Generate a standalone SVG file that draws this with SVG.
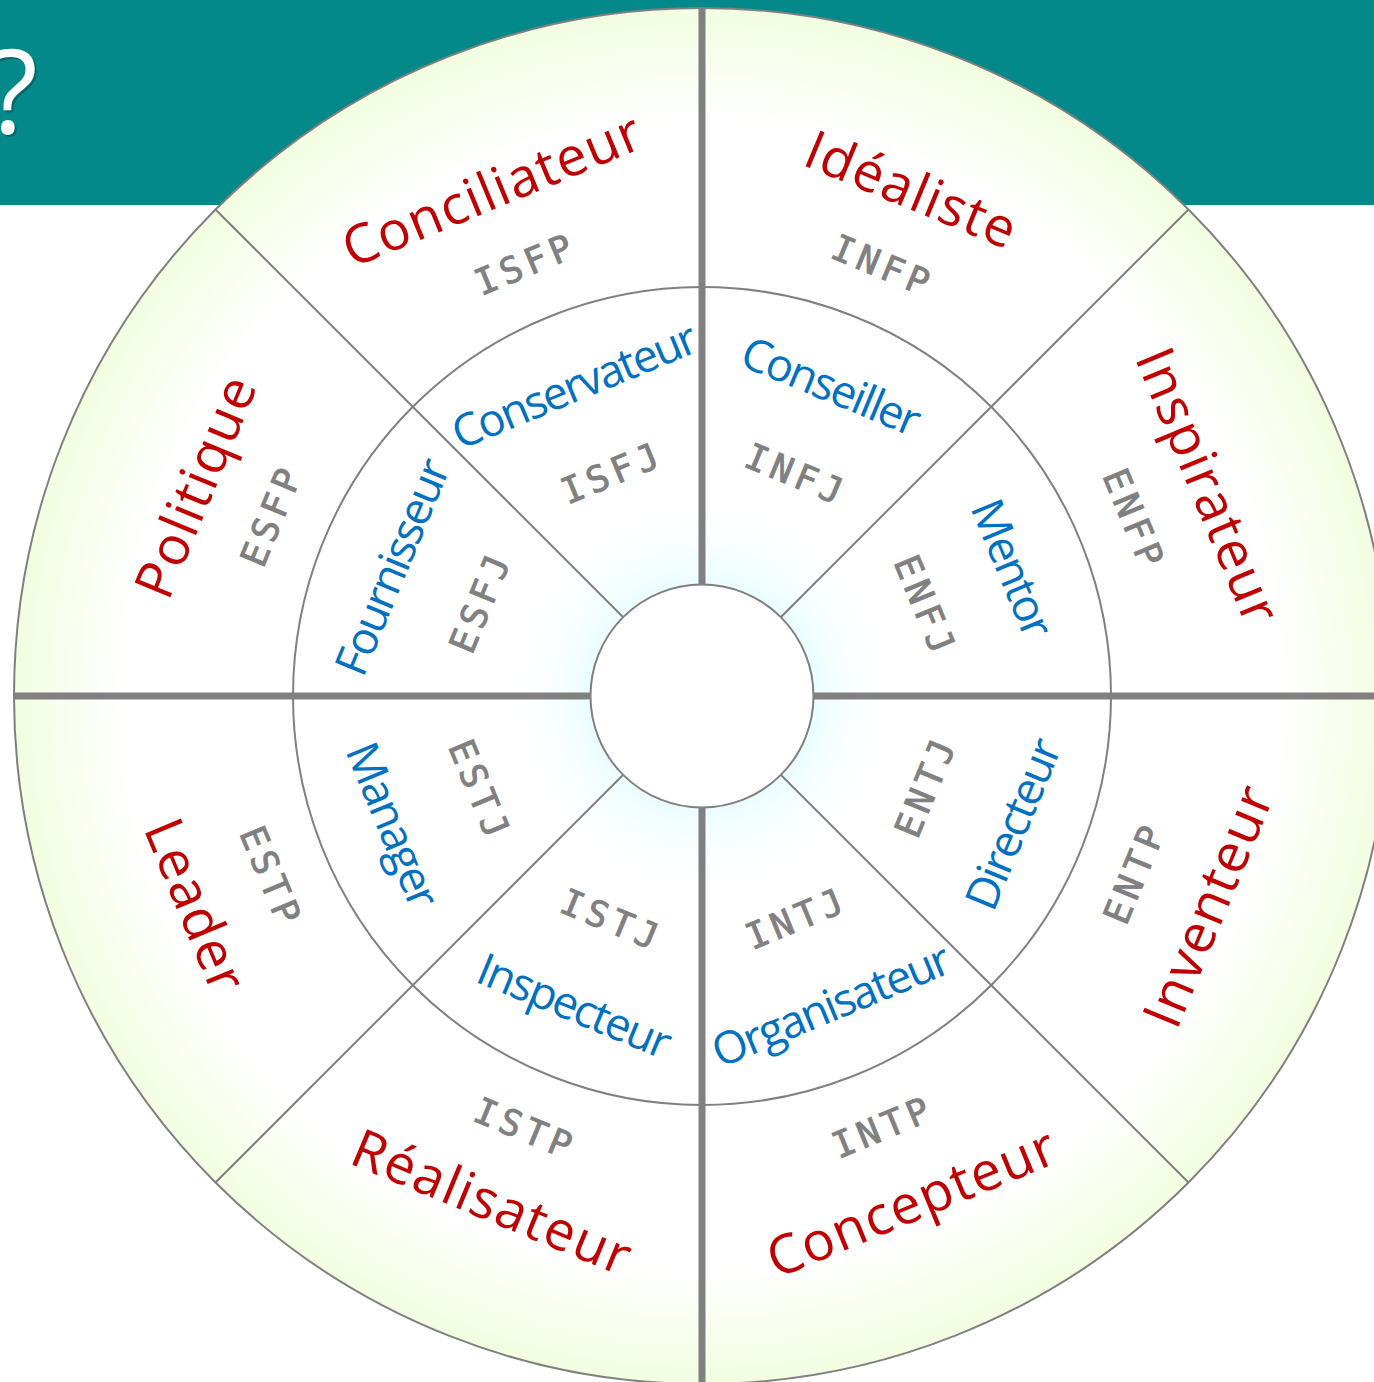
<svg xmlns="http://www.w3.org/2000/svg" width="1374" height="1382" viewBox="0 0 1374 1382">
<defs>
<radialGradient id="outerG" cx="702" cy="696" r="688" gradientUnits="userSpaceOnUse">
<stop offset="0" stop-color="#ffffff"/>
<stop offset="0.84" stop-color="#ffffff"/>
<stop offset="1" stop-color="#f2fde0"/>
</radialGradient>
<radialGradient id="glowG" cx="702" cy="696" r="195" gradientUnits="userSpaceOnUse">
<stop offset="0.5" stop-color="#e2fcff"/>
<stop offset="1" stop-color="#ffffff" stop-opacity="0"/>
</radialGradient>
<style>
.ring{stroke:#808080;stroke-width:2}
.thick{stroke:#808080;stroke-width:7;fill:none}
.thin{stroke:#808080;stroke-width:2;fill:none}
.red{font-family:"Open Sans","Noto Sans",sans-serif;font-size:54px;fill:#c00000;letter-spacing:1.5px;text-anchor:middle}
.blue{font-family:"Open Sans","Noto Sans",sans-serif;font-size:45px;fill:#0070c0;letter-spacing:-2px;text-anchor:middle}
.code{font-family:"DejaVu Sans Mono","Liberation Mono",monospace;font-size:36px;fill:#808080;stroke:#808080;stroke-width:0.9px;letter-spacing:5px;text-anchor:middle}
</style>
</defs>
<g id="header">
<rect x="0" y="0" width="1374" height="205" fill="#03898a"/>
<text x="40" y="135" font-family="Open Sans,sans-serif" font-size="118" fill="#000000" fill-opacity="0.25" text-anchor="end">?</text>
<text x="38" y="133" font-family="Open Sans,sans-serif" font-size="118" fill="#ffffff" text-anchor="end">?</text>
</g>
<g id="wheel">
<circle cx="702" cy="696" r="688" fill="url(#outerG)" class="ring"/>
<circle cx="702" cy="696" r="409" fill="#ffffff" class="ring"/>
<circle cx="702" cy="696" r="200" fill="url(#glowG)"/>
</g>
<g id="connectors">
<line x1="702" y1="8" x2="702" y2="1382" class="thick"/>
<line x1="14" y1="696" x2="1374" y2="696" class="thick"/>
<line x1="215.5" y1="209.5" x2="1188.5" y2="1182.5" class="thin"/>
<line x1="1188.5" y1="209.5" x2="215.5" y2="1182.5" class="thin"/>
</g>
<g id="center">
<circle cx="702" cy="696" r="111.5" fill="#ffffff" class="ring"/>
</g>
<g id="sector-ISFP">
<text class="red" dy="0.35em" transform="translate(492.3,189.7) rotate(-22.5)">Conciliateur</text>
<text class="code" dy="0.36em" dx="2.5" transform="translate(523.3,264.5) rotate(-22.5)">ISFP</text>
</g>
<g id="sector-INFP">
<text class="red" dy="0.35em" transform="translate(911.7,189.7) rotate(22.5)">Idéaliste</text>
<text class="code" dy="0.36em" dx="2.5" transform="translate(880.7,264.5) rotate(22.5)">INFP</text>
</g>
<g id="sector-ENFP">
<text class="red" dy="0.35em" transform="translate(1208.3,486.3) rotate(67.5)">Inspirateur</text>
<text class="code" dy="0.36em" dx="2.5" transform="translate(1133.5,517.3) rotate(67.5)">ENFP</text>
</g>
<g id="sector-ESFP">
<text class="red" dy="0.35em" transform="translate(195.7,486.3) rotate(-67.5)">Politique</text>
<text class="code" dy="0.36em" dx="2.5" transform="translate(270.5,517.3) rotate(-67.5)">ESFP</text>
</g>
<g id="sector-ESTP">
<text class="red" dy="0.35em" transform="translate(195.7,905.7) rotate(67.5)">Leader</text>
<text class="code" dy="0.36em" dx="2.5" transform="translate(270.5,874.7) rotate(67.5)">ESTP</text>
</g>
<g id="sector-ISTP">
<text class="red" dy="0.35em" transform="translate(492.3,1202.3) rotate(22.5)">Réalisateur</text>
<text class="code" dy="0.36em" dx="2.5" transform="translate(523.3,1127.5) rotate(22.5)">ISTP</text>
</g>
<g id="sector-INTP">
<text class="red" dy="0.35em" transform="translate(911.7,1202.3) rotate(-22.5)">Concepteur</text>
<text class="code" dy="0.36em" dx="2.5" transform="translate(880.7,1127.5) rotate(-22.5)">INTP</text>
</g>
<g id="sector-ENTP">
<text class="red" dy="0.35em" transform="translate(1208.3,905.7) rotate(-67.5)">Inventeur</text>
<text class="code" dy="0.36em" dx="2.5" transform="translate(1133.5,874.7) rotate(-67.5)">ENTP</text>
</g>
<g id="sector-ISFJ">
<text class="blue" dy="0.36em" transform="translate(573.4,385.6) rotate(-22.5)">Conservateur</text>
<text class="code" dy="0.36em" dx="2.5" transform="translate(609.8,473.3) rotate(-22.5)">ISFJ</text>
</g>
<g id="sector-INFJ">
<text class="blue" dy="0.36em" transform="translate(830.6,385.6) rotate(22.5)">Conseiller</text>
<text class="code" dy="0.36em" dx="2.5" transform="translate(794.2,473.3) rotate(22.5)">INFJ</text>
</g>
<g id="sector-ENFJ">
<text class="blue" dy="0.36em" transform="translate(1012.4,567.4) rotate(67.5)">Mentor</text>
<text class="code" dy="0.36em" dx="2.5" transform="translate(924.7,603.8) rotate(67.5)">ENFJ</text>
</g>
<g id="sector-ESFJ">
<text class="blue" dy="0.36em" transform="translate(391.6,567.4) rotate(-67.5)">Fournisseur</text>
<text class="code" dy="0.36em" dx="2.5" transform="translate(479.3,603.8) rotate(-67.5)">ESFJ</text>
</g>
<g id="sector-ESTJ">
<text class="blue" dy="0.33em" transform="translate(391.6,824.6) rotate(67.5)">Manager</text>
<text class="code" dy="0.36em" dx="2.5" transform="translate(479.3,788.2) rotate(67.5)">ESTJ</text>
</g>
<g id="sector-ISTJ">
<text class="blue" dy="0.33em" transform="translate(573.4,1006.4) rotate(22.5)">Inspecteur</text>
<text class="code" dy="0.36em" dx="2.5" transform="translate(609.8,918.7) rotate(22.5)">ISTJ</text>
</g>
<g id="sector-INTJ">
<text class="blue" dy="0.33em" transform="translate(830.6,1006.4) rotate(-22.5)">Organisateur</text>
<text class="code" dy="0.36em" dx="2.5" transform="translate(794.2,918.7) rotate(-22.5)">INTJ</text>
</g>
<g id="sector-ENTJ">
<text class="blue" dy="0.36em" transform="translate(1012.4,824.6) rotate(-67.5)">Directeur</text>
<text class="code" dy="0.36em" dx="2.5" transform="translate(924.7,788.2) rotate(-67.5)">ENTJ</text>
</g>
</svg>
